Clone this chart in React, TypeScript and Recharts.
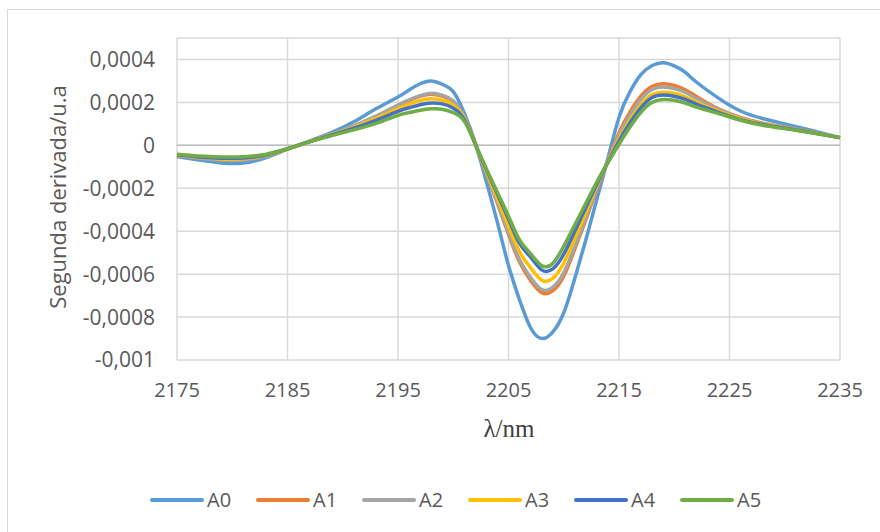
import React from 'react';
import { LineChart, Line, XAxis, YAxis, CartesianGrid, Legend, ReferenceLine } from 'recharts';

const wavelengths = [2175, 2177, 2179, 2181, 2183, 2185, 2187, 2189, 2191, 2193,
  2195, 2196, 2197, 2198, 2199, 2200, 2201, 2202, 2203, 2204, 2205, 2206, 2207, 2208, 2209, 2210, 2211, 2212, 2213, 2214, 2215, 2216, 2217, 2218, 2219, 2220, 2221, 2222,
  2224, 2226, 2228, 2230, 2232, 2235];

const a0 = [-0.000052, -0.000068, -0.000082, -0.000082, -0.000058, -0.000018, 0.00002, 0.00006, 0.00011, 0.00017,
  0.000225, 0.000258, 0.000287, 0.0003, 0.000285, 0.00025, 0.00015, 0.00001, -0.00017, -0.00036, -0.00056, -0.00072, -0.00085, -0.0009, -0.00087, -0.00078, -0.00062, -0.00044, -0.00025, -0.00006, 0.00013, 0.00025, 0.00033, 0.000372, 0.000385, 0.00037, 0.00034, 0.000295,
  0.00022, 0.00016, 0.000125, 0.0001, 0.000075, 0.000036];

const a1 = [-0.000047, -0.000058, -0.000067, -0.000066, -0.000049, -0.000017, 0.000018, 0.000052, 0.000089, 0.000133,
  0.000184, 0.000208, 0.000228, 0.000238, 0.000229, 0.000203, 0.000132, 0.000007, -0.000132, -0.000272, -0.000415, -0.000544, -0.00063, -0.000686, -0.000678, -0.00061, -0.000483, -0.000347, -0.000204, -0.000071, 0.000059, 0.000156, 0.00023, 0.000275, 0.000287, 0.000279, 0.000259, 0.000228,
  0.00017, 0.00013, 0.000103, 0.000085, 0.000066, 0.000036];

const a2 = [-0.000047, -0.000059, -0.000068, -0.000068, -0.00005, -0.000017, 0.000018, 0.000053, 0.000091, 0.000136,
  0.000188, 0.000212, 0.000232, 0.000243, 0.000234, 0.000207, 0.000133, 0.000007, -0.00013, -0.000266, -0.000406, -0.000532, -0.000616, -0.000672, -0.000662, -0.000594, -0.00047, -0.000338, -0.000197, -0.000073, 0.000048, 0.000141, 0.000215, 0.00026, 0.000272, 0.000264, 0.000246, 0.000218,
  0.000166, 0.000128, 0.000102, 0.000084, 0.000065, 0.000036];

const a3 = [-0.000046, -0.000056, -0.000064, -0.000063, -0.000048, -0.000017, 0.000017, 0.00005, 0.000085, 0.000126,
  0.000171, 0.000191, 0.000208, 0.000217, 0.00021, 0.000187, 0.000126, 0.000006, -0.000122, -0.000248, -0.000376, -0.000496, -0.00057, -0.000628, -0.00062, -0.000548, -0.000433, -0.000313, -0.000186, -0.000076, 0.00003, 0.000118, 0.00019, 0.000236, 0.000247, 0.000242, 0.000226, 0.000201,
  0.000159, 0.000124, 0.000099, 0.000081, 0.000064, 0.000036];

const a4 = [-0.000044, -0.000054, -0.00006, -0.000059, -0.000045, -0.000016, 0.000017, 0.000048, 0.00008, 0.000116,
  0.000158, 0.000175, 0.000189, 0.000197, 0.000193, 0.000173, 0.00012, 0.000005, -0.000114, -0.000228, -0.000344, -0.000457, -0.000521, -0.00058, -0.000576, -0.000507, -0.0004, -0.00029, -0.00018, -0.000078, 0.00002, 0.000105, 0.000176, 0.000223, 0.000234, 0.000229, 0.000214, 0.000192,
  0.000154, 0.00012, 0.000097, 0.00008, 0.000063, 0.000036];

const a5 = [-0.000042, -0.00005, -0.000054, -0.000053, -0.000042, -0.000016, 0.000016, 0.000045, 0.000072, 0.000102,
  0.00014, 0.000153, 0.000163, 0.00017, 0.000168, 0.000152, 0.000112, 0.000005, -0.00011, -0.00022, -0.00033, -0.00044, -0.000505, -0.00056, -0.00055, -0.00047, -0.00037, -0.00027, -0.00017, -0.00008, 0.000005, 0.000085, 0.000155, 0.0002, 0.000213, 0.00021, 0.000197, 0.000178,
  0.000148, 0.000117, 0.000094, 0.000078, 0.000062, 0.000036];

const seriesNames = ['A0', 'A1', 'A2', 'A3', 'A4', 'A5'];
const seriesColors = ['#5B9BD5', '#ED7D31', '#A5A5A5', '#FFC000', '#4472C4', '#70AD47'];
const seriesValues = [a0, a1, a2, a3, a4, a5];

const xTicks = [2175, 2185, 2195, 2205, 2215, 2225, 2235];
const yTicks = [-0.001, -0.0008, -0.0006, -0.0004, -0.0002, 0, 0.0002, 0.0004];
const yDomain = [-0.001, 0.0005];
const xTitle = 'λ/nm';
const yTitle = 'Segunda derivada/u.a';

const data = wavelengths.map((w, i) => {
  const row: any = { x: w };
  seriesNames.forEach((n, k) => {
    row[n] = seriesValues[k][i];
  });
  return row;
});

const fmtY = (v: number) => String(+v.toFixed(4)).replace('.', ',');

const YTitle = () => (
  <text x={0} y={0} transform="translate(66,197) rotate(-90)" textAnchor="middle"
    fill="#595959" fontFamily="Open Sans" fontSize={22}>{yTitle}</text>
);

const XTitle = () => (
  <text x={509} y={437} textAnchor="middle" fill="#404040"
    fontFamily="Liberation Serif" fontSize={25}>{xTitle}</text>
);

const renderLegend = (props: any) => {
  const payload = props.payload || [];
  return (
    <div style={{ display: 'flex', fontFamily: 'Open Sans', fontSize: 20, color: '#595959' }}>
      {payload.map((e: any) => (
        <div key={e.value} style={{ display: 'flex', alignItems: 'center', width: 106, height: 28 }}>
          <svg width={54} height={8} style={{ display: 'block' }}>
            <line x1={2} y1={4} x2={52} y2={4} stroke={e.color} strokeWidth={4} strokeLinecap="round" />
          </svg>
          <span style={{ marginLeft: 3, lineHeight: '28px' }}>{e.value}</span>
        </div>
      ))}
    </div>
  );
};

export default function App() {
  return (
    <div style={{ position: 'absolute', left: 0, top: 0, width: 880, height: 532, overflow: 'hidden', background: '#fff' }}>
      <div style={{ position: 'absolute', left: 7, top: 9, width: 900, height: 600, border: '1px solid #d9d9d9' }} />
      <div style={{ position: 'absolute', left: 0, top: 0 }}>
        <LineChart width={880} height={532} data={data} margin={{ top: 38, right: 40, bottom: 92, left: 0 }}>
          <CartesianGrid stroke="#d9d9d9" strokeWidth={1.5} />
          <XAxis dataKey="x" type="number" domain={[2175, 2235]} ticks={xTicks} interval={0}
            tickLine={false} axisLine={false} tickSize={0} tickMargin={23} height={80}
            tick={{ fill: '#595959', fontSize: 20, fontFamily: 'Open Sans' }}
            label={<XTitle />} />
          <YAxis type="number" domain={yDomain} ticks={yTicks} interval={0} tickFormatter={fmtY}
            tickLine={false} axisLine={false} tickSize={0} tickMargin={22} width={177}
            allowDataOverflow
            tick={{ fill: '#595959', fontSize: 21, fontFamily: 'Open Sans' }}
            label={<YTitle />} />
          <ReferenceLine y={0} stroke="#bfbfbf" strokeWidth={1.5} />
          {seriesNames.map((n, k) => (
            <Line key={n} dataKey={n} name={n} type="natural" stroke={seriesColors[k]} strokeWidth={3.5}
              dot={false} activeDot={false} isAnimationActive={false} />
          ))}
          <Legend layout="horizontal" verticalAlign="middle" align="center" content={renderLegend}
            wrapperStyle={{ position: 'absolute', top: 486, left: 150, width: 660 }} />
        </LineChart>
      </div>
    </div>
  );
}
